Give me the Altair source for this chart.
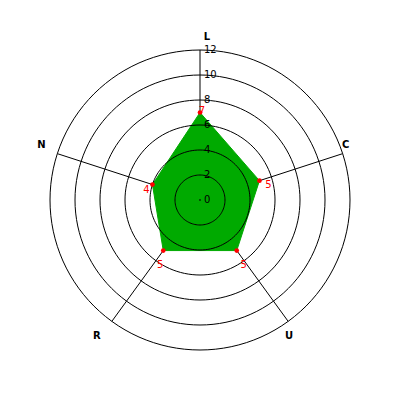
import math
import altair as alt
import pandas as pd

# ---- data ----
categories = ["L", "C", "U", "R", "N"]
values = [7, 5, 5, 5, 4]
ring_levels = [2, 4, 6, 8, 10, 12]
tick_values = [0, 2, 4, 6, 8, 10, 12]
tick_labels = ["0", "2", "4", "6", "8", "10", "12"]
max_value = 12

# ---- derived tables ----
n = len(categories)
angles = [math.radians(90 - 360.0 / n * i) for i in range(n)]

poly = pd.DataFrame({
    "cat": categories + [categories[0]],
    "v": values + [values[0]],
    "a": angles + [angles[0]],
    "idx": list(range(n + 1)),
})
poly["x"] = poly["v"] * poly["a"].apply(math.cos)
poly["y"] = poly["v"] * poly["a"].apply(math.sin)
pts = poly.iloc[:n].copy()
pts["lab"] = [str(v) for v in values]

ring_rows = []
for lvl in ring_levels:
    for k in range(0, 361, 3):
        t = math.radians(k)
        ring_rows.append({"lvl": lvl, "k": k, "x": lvl * math.cos(t), "y": lvl * math.sin(t)})
rings = pd.DataFrame(ring_rows)

spokes = pd.DataFrame({
    "cat": categories,
    "x0": [0.0] * n,
    "y0": [0.0] * n,
    "x": [max_value * math.cos(a) for a in angles],
    "y": [max_value * math.sin(a) for a in angles],
})

ticks = pd.DataFrame({"x": [0.0] * len(tick_values), "y": tick_values, "t": tick_labels})
center = pd.DataFrame({"x": [0.0], "y": [0.0]})

half = 15.36
xs = alt.Scale(domain=[-half, half], nice=False, zero=False)
ys = alt.Scale(domain=[-half, half], nice=False, zero=False)
X = lambda f="x": alt.X(f"{f}:Q", scale=xs, axis=None)
Y = lambda f="y": alt.Y(f"{f}:Q", scale=ys, axis=None)

font = "DejaVu Sans"

spoke_layer = alt.Chart(spokes).mark_rule(color="black", strokeWidth=1).encode(
    x=X("x0"), y=Y("y0"), x2="x:Q", y2="y:Q"
)

poly_layer = alt.Chart(poly).mark_line(
    fill="#00aa00", stroke="#00aa00", strokeWidth=1, interpolate="linear"
).encode(x=X(), y=Y(), order="idx:Q")

ring_layer = alt.Chart(rings).mark_line(color="black", strokeWidth=1).encode(
    x=X(), y=Y(), detail="lvl:N", order="k:Q"
)

tick_layer = alt.Chart(ticks).mark_text(
    align="left", baseline="middle", dx=4, font=font, fontSize=10, color="black"
).encode(x=X(), y=Y(), text="t:N")

center_layer = alt.Chart(center).mark_point(
    shape="square", size=2, filled=True, color="black", opacity=1
).encode(x=X(), y=Y())

point_layer = alt.Chart(pts).mark_point(
    shape="circle", size=22, filled=True, color="#ff0000", opacity=1
).encode(x=X(), y=Y())

value_offsets = {"L": (2, -2), "C": (9, 4), "U": (7, 14), "R": (-3, 14), "N": (-6, 5)}
label_offsets = {"L": (7, -13), "C": (3, -9), "U": (1, 15), "R": (-15, 15), "N": (-16, -9)}

layers = [spoke_layer, poly_layer, ring_layer, tick_layer, center_layer, point_layer]
for c in categories:
    dx, dy = value_offsets[c]
    layers.append(
        alt.Chart(pts).transform_filter(alt.datum.cat == c).mark_text(
            align="center", baseline="middle", dx=dx, dy=dy, font=font, fontSize=10, color="#ff0000"
        ).encode(x=X(), y=Y(), text="lab:N")
    )
    dx, dy = label_offsets[c]
    layers.append(
        alt.Chart(spokes).transform_filter(alt.datum.cat == c).mark_text(
            align="center", baseline="middle", dx=dx, dy=dy, font=font, fontSize=10,
            fontWeight="bold", color="black"
        ).encode(x=X(), y=Y(), text="cat:N")
    )

chart = alt.layer(*layers).properties(
    width=384, height=384, autosize=alt.AutoSizeParams(type="none"), padding=0,
    background="white"
).configure_view(stroke=None, strokeWidth=0)

chart.save("out.html", embed_options={"renderer": "svg", "actions": False})
